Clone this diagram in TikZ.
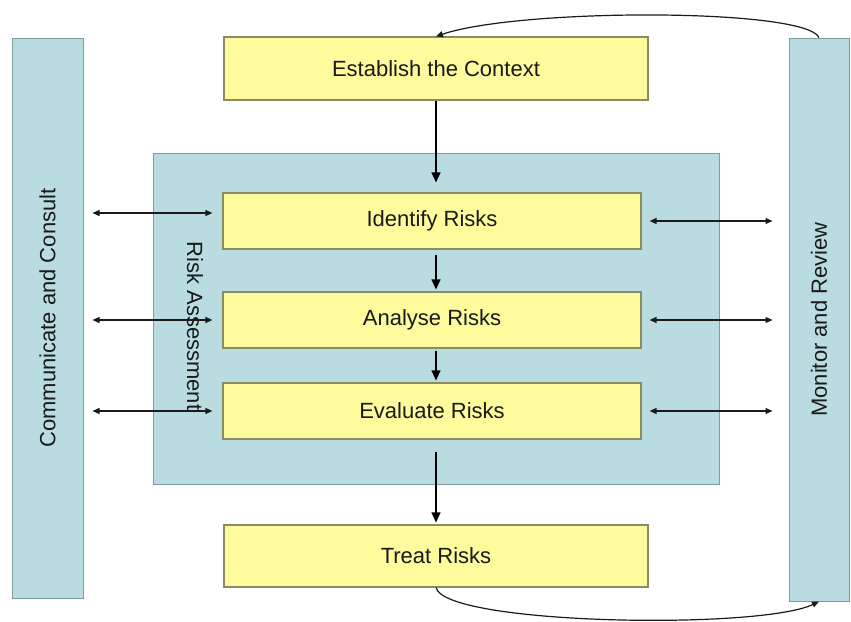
\documentclass[tikz,border=0pt]{standalone}
\usepackage{fontspec}
\setmainfont{Liberation Sans}
\usepackage{tikz}
\usetikzlibrary{arrows.meta}
\definecolor{boxyellow}{HTML}{FDFB9C}
\definecolor{yellowline}{HTML}{8C8C64}
\definecolor{boxblue}{HTML}{B8DCE0}
\definecolor{blueline}{HTML}{7E9CA0}
\definecolor{inkgray}{HTML}{1A1A1A}
\tikzset{
  yellowbox/.style={draw=yellowline,fill=boxyellow,line width=1.2pt,inner sep=0pt},
  bluebox/.style={draw=blueline,fill=boxblue,line width=1pt,inner sep=0pt},
  lab/.style={font=\fontsize{22}{26}\selectfont,text=inkgray},
  flow/.style={-{Triangle[length=10pt,width=9pt]},line width=1.3pt,draw=black},
  twoway/.style={{Triangle[length=7pt,width=6pt]}-{Triangle[length=7pt,width=6pt]},line width=1.3pt,draw=inkgray},
  cyclearr/.style={-{Triangle[length=7pt,width=6pt]},line width=1.2pt,draw=inkgray}
}
\newcommand{\stepbox}[6]{
\path (#2,#3) node[yellowbox,lab,minimum width=#4pt,minimum height=#5pt] (#1) {#6};
}

\begin{document}
\begin{tikzpicture}[x=1pt,y=-1pt]
\useasboundingbox (0,0) rectangle (851,621);
\path (47.5,318) node[bluebox,minimum width=71pt,minimum height=560pt] (comm) {};
\path (comm.center) node[lab,rotate=90] (commlab) {Communicate and Consult};
\path (819,319.5) node[bluebox,minimum width=60pt,minimum height=563pt] (mon) {};
\path (mon.center) node[lab,rotate=90] (monlab) {Monitor and Review};
\path (436,318.5) node[bluebox,minimum width=566pt,minimum height=331pt] (assess) {};
\path (195,326) node[lab,rotate=-90] (assesslab) {Risk Assessment};

\stepbox{ctx}{436}{68.5}{424}{63}{Establish the Context}
\stepbox{ident}{432}{221}{418}{56}{Identify Risks}
\stepbox{anal}{432}{320}{418}{56}{Analyse Risks}
\stepbox{eval}{432}{411}{418}{56}{Evaluate Risks}
\stepbox{treat}{436}{556}{424}{62}{Treat Risks}

\draw[flow,shorten >=10pt] (ctx.south) -- (ctx.south |- ident.north);
\draw[flow,shorten <=5pt,shorten >=2pt] (ctx.south |- ident.south) -- (ctx.south |- anal.north);
\draw[flow,shorten <=2pt,shorten >=2pt] (ctx.south |- anal.south) -- (ctx.south |- eval.north);
\draw[flow,shorten <=12pt,shorten >=2pt] (ctx.south |- eval.south) -- (treat.north);

\foreach \s/\dy in {ident/8,anal/0,eval/0} {
  \draw[twoway,shorten <=9pt,shorten >=10pt] ([yshift=\dy pt]\s.west -| comm.east) -- ([yshift=\dy pt]\s.west);
  \draw[twoway,shorten <=8pt,shorten >=16pt] (\s.east) -- (\s.east -| mon.west);
}

\draw[cyclearr] (mon.north) .. controls (805,8) and (520,8) .. (ctx.north);
\draw[cyclearr] (treat.south) .. controls (445,625) and (760,630) .. (mon.south);
\end{tikzpicture}
\end{document}
